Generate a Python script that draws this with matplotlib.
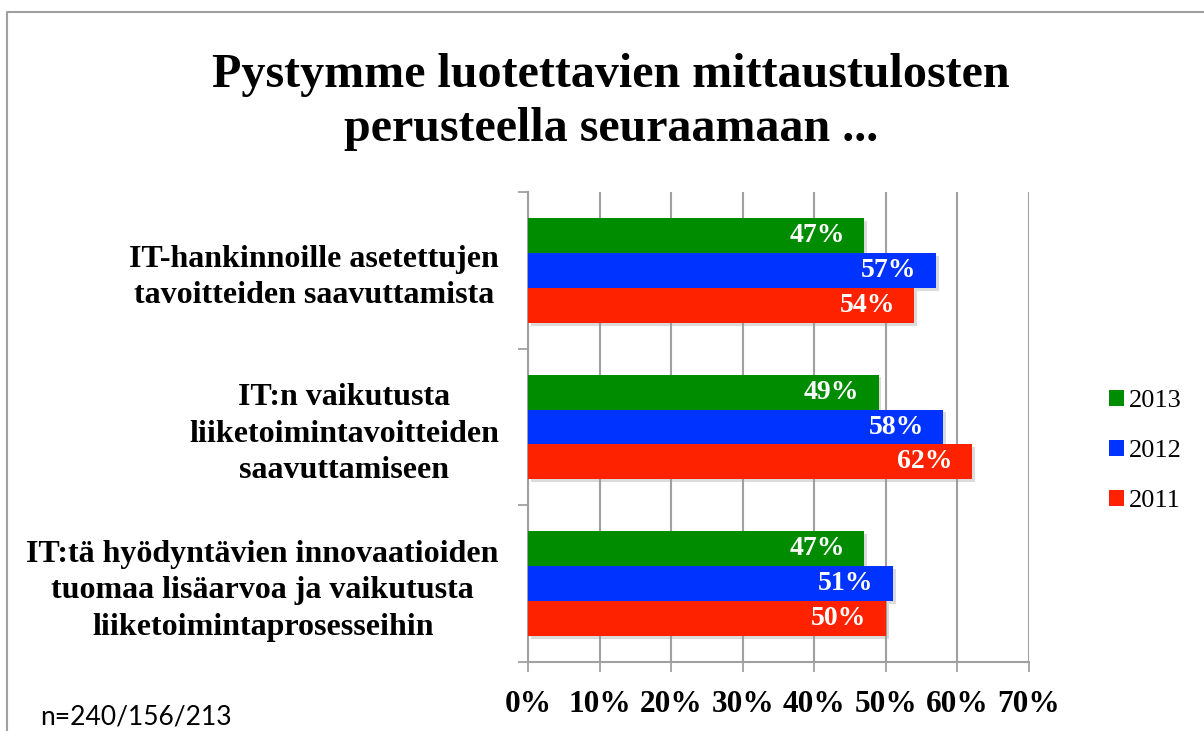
import matplotlib
matplotlib.use("Agg")
import matplotlib.pyplot as plt
from matplotlib.lines import Line2D
from matplotlib.patches import Patch
import matplotlib.patheffects as pe
import numpy as np

title = "Pystymme luotettavien mittaustulosten\nperusteella seuraamaan ..."
categories = [
    "IT-hankinnoille asetettujen\ntavoitteiden saavuttamista",
    "IT:n vaikutusta\nliiketoimintavoitteiden\nsaavuttamiseen",
    "IT:tä hyödyntävien innovaatioiden\ntuomaa lisäarvoa ja vaikutusta\nliiketoimintaprosesseihin",
]
series_names = ["2013", "2012", "2011"]
values_2013 = [47, 49, 47]
values_2012 = [57, 58, 51]
values_2011 = [54, 62, 50]
colors = ["#008C00", "#0033FF", "#FF2200"]
x_ticks = [0, 10, 20, 30, 40, 50, 60, 70]
x_ticklabels = ["0%", "10%", "20%", "30%", "40%", "50%", "60%", "70%"]
footnote = "n=240/156/213"

serif = "Liberation Serif"
W, H = 1204, 731
fig = plt.figure(figsize=(W / 100, H / 100), dpi=100)
ax = fig.add_axes([528 / W, 1 - 662 / H, (1029 - 528) / W, (662 - 192) / H])

series = [values_2013, values_2012, values_2011]
bh = 0.223
offsets = [-bh, 0, bh]
y = np.arange(len(categories))
shadow = [pe.SimplePatchShadow(offset=(2, -2), shadow_rgbFace="#999999", alpha=0.35), pe.Normal()]
for vals, off, col, name in zip(series, offsets, colors, series_names):
    bars = ax.barh(y + off, vals, height=bh, color=col, label=name, zorder=3)
    for b in bars:
        b.set_path_effects(shadow)
    for yi, v in zip(y + off, vals):
        ax.text(v - 2.7, yi, f"{v}%", ha="right", va="center", color="white",
                fontsize=20, fontweight="bold", family=serif, zorder=4)

ax.set_xlim(0, 70)
ax.set_ylim(len(categories) - 0.5, -0.5)
ax.set_xticks(x_ticks)
ax.set_xticklabels(x_ticklabels, fontsize=22.5, fontweight="bold", family=serif)
ax.set_yticks(y)
ax.set_yticklabels(categories, fontsize=23, fontweight="bold", family=serif,
                   multialignment="center", linespacing=1.33)
ax.set_yticks(np.arange(len(categories) + 1) - 0.5, minor=True)
ax.tick_params(axis="y", which="major", length=0, pad=21)
ax.tick_params(axis="y", which="minor", length=7, width=1.3, color="#A0A0A0", direction="out")
ax.tick_params(axis="x", which="major", length=7, width=1.3, color="#A0A0A0", direction="out", pad=13)
ax.grid(axis="x", color="#A0A0A0", linewidth=1.5, zorder=0)
ax.set_axisbelow(True)
for s in ["top", "right"]:
    ax.spines[s].set_visible(False)
for s in ["left", "bottom"]:
    ax.spines[s].set_color("#A0A0A0")
    ax.spines[s].set_linewidth(1.5)

fig.text(611 / W, 1 - 102 / H, title, ha="center", va="center", fontsize=34.6,
         fontweight="bold", family=serif, linespacing=1.3)

handles = [Patch(facecolor=c, label=n) for c, n in zip(colors, series_names)]
fig.legend(handles=handles, loc="center left", bbox_to_anchor=(1096 / W, 1 - 451 / H),
           frameon=False, prop={"family": serif, "size": 19}, handlelength=0.55,
           handleheight=0.55, handletextpad=0.2, labelspacing=1.05, borderpad=0)

fig.text(40 / W, 1 - 717 / H, footnote, ha="left", va="center", fontsize=19, family="Lato")

fig.add_artist(Line2D([7 / W, 7 / W, 1], [0, 1 - 12 / H, 1 - 12 / H],
                      transform=fig.transFigure, color="#A0A0A0", linewidth=1.5))

fig.savefig("out.png", dpi=100)
